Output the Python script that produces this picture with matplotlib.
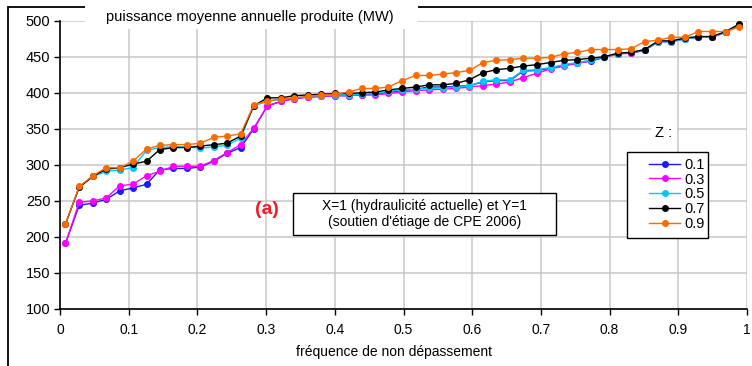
import matplotlib
matplotlib.use('Agg')
import matplotlib.pyplot as plt
from matplotlib.patches import Rectangle

plt.rcParams['font.family'] = ['Liberation Sans', 'DejaVu Sans']

# fréquence de non dépassement (51 points)
freq = [0.008, 0.028, 0.048, 0.067, 0.087, 0.106, 0.126, 0.145, 0.165, 0.185,
        0.204, 0.224, 0.243, 0.263, 0.282, 0.302, 0.322, 0.341, 0.361, 0.380,
        0.400, 0.420, 0.439, 0.459, 0.478, 0.498, 0.518, 0.537, 0.557, 0.576,
        0.596, 0.616, 0.635, 0.655, 0.674, 0.694, 0.714, 0.733, 0.753, 0.773,
        0.792, 0.812, 0.831, 0.851, 0.871, 0.890, 0.910, 0.929, 0.949, 0.969,
        0.988]

# puissance moyenne annuelle (MW) pour chaque Z
p_z01 = [191, 244, 247, 252, 264, 268, 273, 293, 295, 295,
         297, 305, 316, 324, 350, 382, 388, 392, 394, 395,
         396, 396, 397, 398, 401, 403, 405, 408, 408, 409,
         410, 415, 417, 417, 430, 431, 434, 438, 441, 444,
         449, 454, 455, 459, 471, 471, 475, 477, 477, 484,
         494]
p_z03 = [191, 248, 250, 254, 271, 273, 285, 291, 298, 298,
         298, 306, 317, 328, 351, 382, 388, 392, 394, 395,
         396, 396, 397, 397, 399, 401, 403, 404, 405, 406,
         408, 410, 412, 415, 421, 427, 433, 437, 441, 445,
         449, 454, 455, 459, 471, 471, 475, 477, 477, 484,
         494]
p_z05 = [218, 269, 284, 291, 293, 296, 320, 324, 325, 325,
         323, 325, 327, 337, 382, 388, 391, 393, 395, 396,
         397, 397, 398, 399, 402, 404, 405, 406, 407, 408,
         410, 416, 418, 418, 431, 432, 435, 439, 442, 445,
         450, 454, 456, 459, 471, 471, 475, 477, 477, 484,
         494]
p_z07 = [218, 269, 284, 294, 296, 301, 305, 321, 324, 324,
         326, 328, 330, 340, 382, 393, 393, 396, 397, 398,
         399, 399, 400, 401, 404, 406, 408, 411, 411, 413,
         418, 428, 432, 434, 437, 439, 442, 445, 446, 448,
         450, 455, 456, 460, 472, 472, 476, 478, 478, 485,
         495]
p_z09 = [218, 270, 285, 296, 296, 305, 322, 327, 328, 328,
         330, 338, 340, 343, 383, 389, 391, 393, 395, 397,
         398, 401, 406, 406, 408, 417, 424, 424, 426, 428,
         431, 442, 445, 446, 448, 448, 449, 454, 456, 460,
         460, 460, 461, 471, 473, 477, 477, 485, 485, 485,
         491]

series = [p_z01, p_z03, p_z05, p_z07, p_z09]
labels = ['0.1', '0.3', '0.5', '0.7', '0.9']
colors = ['#1a1aff', '#ff00ff', '#00c8ff', '#000000', '#ff6a00']

W, H = 752, 366


def fx(px):
    return px / W


def fy(py):
    return 1 - py / H


fig = plt.figure(figsize=(W / 100, H / 100), dpi=100)
ax = fig.add_axes([fx(60), fy(309), (747 - 60) / W, (309 - 20.7) / H])

for y, lab, c in zip(series, labels, colors):
    ax.plot(freq, y, color=c, lw=1.0, marker='o', ms=4, mec=c, mfc=c, label=lab)

ax.set_xlim(0, 1)
ax.set_ylim(100, 500)
ax.set_xticks([i / 10 for i in range(11)])
ax.set_xticklabels(['0', '0.1', '0.2', '0.3', '0.4', '0.5', '0.6', '0.7', '0.8', '0.9', '1'])
ax.set_yticks(range(100, 501, 50))
ax.tick_params(axis='y', labelsize=10.5, length=4, width=1, pad=3)
ax.tick_params(axis='x', labelsize=10, length=4, width=1, pad=6)
ax.grid(True, color='#c8c8c8', lw=1.1)
ax.set_axisbelow(True)
for s in ['top', 'right']:
    ax.spines[s].set_visible(False)
for s in ['left', 'bottom']:
    ax.spines[s].set_linewidth(1.2)

# cadre de la légende
ax.add_patch(Rectangle((fx(627), fy(238)), (708 - 627) / W, (238 - 152) / H,
                       transform=fig.transFigure, fc='white', ec='black', lw=1.0,
                       clip_on=False, zorder=4))
leg = ax.legend(loc='upper left', bbox_to_anchor=(fx(642), fy(150.5)),
                bbox_transform=fig.transFigure, fontsize=10.5, handlelength=2.1,
                handletextpad=0.3, labelspacing=0.05, borderpad=0.0,
                frameon=False)

# cadre extérieur
fig.patches.append(Rectangle((fx(8), -0.05), 1.0, fy(6.7) + 0.05, transform=fig.transFigure,
                             fill=False, ec='black', lw=1.3, zorder=4))
# boîte du titre
fig.patches.append(Rectangle((fx(85), fy(29)), (418 - 85) / W, 29 / H, transform=fig.transFigure,
                             fc='white', ec='none', zorder=5))
fig.text(fx(250), fy(17), 'puissance moyenne annuelle produite (MW)', ha='center', va='center',
         fontsize=10.5, zorder=6)

fig.text(fx(664), fy(133), 'Z :', ha='center', va='center', fontsize=10.5,
         bbox=dict(fc='white', ec='none', pad=3), zorder=6)

# boîte d'annotation
fig.patches.append(Rectangle((fx(293), fy(235)), (556 - 293) / W, (235 - 193) / H,
                             transform=fig.transFigure, fc='white', ec='black', lw=1.0, zorder=5))
fig.text(fx(424.5), fy(214), "X=1 (hydraulicité actuelle) et Y=1\n(soutien d'étiage de CPE 2006)",
         ha='center', va='center', fontsize=10, linespacing=1.25, zorder=6)
fig.text(fx(267), fy(209), '(a)', ha='center', va='center', fontsize=14, fontweight='bold',
         color='#ee1c24', zorder=6)

fig.text(fx(394), fy(352), 'fréquence de non dépassement', ha='center', va='center', fontsize=10)

fig.savefig('out.png', dpi=100)
